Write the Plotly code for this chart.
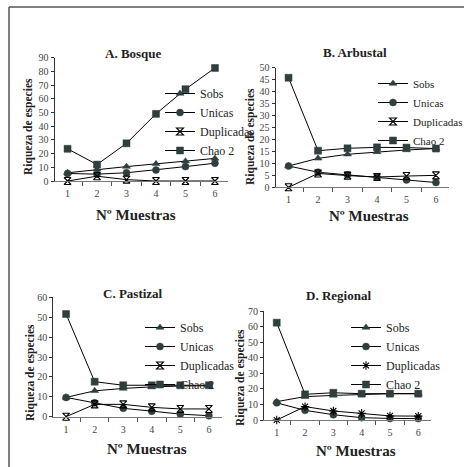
import plotly.graph_objects as go

W, H = 464, 467

samples = ["1", "2", "3", "4", "5", "6"]
series_names = ["Sobs", "Unicas", "Duplicadas", "Chao 2"]

# A. Bosque
sobs_A = [6, 8.5, 10.5, 12.5, 14.5, 16.5]
unicas_A = [5.5, 5, 6, 8, 10.5, 13]
dup_A = [0, 3.5, 1, 0, 0, 0]
chao_A = [23.5, 12, 27.5, 49, 67, 82.5]

# B. Arbustal
sobs_B = [8.9, 12.1, 13.8, 14.8, 15.6, 16.2]
unicas_B = [8.9, 6.3, 5.2, 4.2, 3.1, 2]
dup_B = [0, 5.8, 4.9, 4.3, 4.7, 5]
chao_B = [45.8, 15.3, 16.3, 16.7, 16.6, 16.2]

# C. Pastizal
sobs_C = [9.7, 13, 14.2, 15, 15.4, 15.6]
unicas_C = [9.7, 7, 4.2, 2.8, 1.3, 0.5]
dup_C = [0, 6.2, 6.2, 4.7, 3.9, 3.9]
chao_C = [51.6, 17.6, 15.8, 15.8, 15.8, 15.8]

# D. Regional
sobs_D = [11.8, 15, 15.8, 16.5, 16.9, 16.9]
unicas_D = [11, 6.2, 3.4, 1.5, 1, 0.9]
dup_D = [0, 8.6, 5.8, 4.3, 2.6, 2.5]
chao_D = [62.5, 16.5, 17.5, 16.9, 16.9, 16.9]

titles = ["A. Bosque", "B. Arbustal", "C. Pastizal", "D. Regional"]
y_max = [90, 50, 60, 70]
y_dtick = [10, 5, 10, 10]
x_title = "Nº Muestras"
y_title = "Riqueza de especies"

panels = [
    [sobs_A, unicas_A, dup_A, chao_A],
    [sobs_B, unicas_B, dup_B, chao_B],
    [sobs_C, unicas_C, dup_C, chao_C],
    [sobs_D, unicas_D, dup_D, chao_D],
]

# layout in pixels: plot-area left, right, bottom, top
areas = [
    (54.5, 228, 181, 57.7),
    (275.5, 449, 187.3, 67.7),
    (53.3, 221.7, 416.7, 297.3),
    (264, 431, 420, 311),
]
title_pos = [(133, 54), (355, 53), (133, 293), (338, 295)]
xt_pos = [(136, 215), (369, 216), (147, 449), (356, 451)]
yt_pos = [(28, 127), (250, 137), (30, 373), (240, 378)]
legend_pos = [(200, 88, 12), (413, 78, 11), (180, 322, 12), (386, 322, 12)]

MK = "#2f3e3e"
SERIF = "Liberation Serif"

def px(x):
    return x / W

def py(y):
    return 1 - y / H

fig = go.Figure()
layout = dict(
    width=W, height=H, margin=dict(l=0, r=0, t=0, b=0, autoexpand=False),
    paper_bgcolor="white", plot_bgcolor="white",
    font=dict(family=SERIF, color="#222"),
    showlegend=True,
)
annotations = []

def note(x, y, text, size, angle=0):
    return dict(x=px(x), y=py(y), xref="paper", yref="paper", text=text,
                showarrow=False, textangle=angle, xanchor="center", yanchor="middle",
                font=dict(family=SERIF, size=size, color="#222"))

for i, vals in enumerate(panels):
    n = "" if i == 0 else str(i + 1)
    xa, ya = "x" + n, "y" + n
    leg = "legend" if i == 0 else "legend" + str(i + 1)
    dup_symbol = "asterisk-open" if i == 3 else "hourglass-open"
    symbols = ["triangle-up", "circle", dup_symbol, "square"]
    for name, v, sym in zip(series_names, vals, symbols):
        if sym in ("hourglass-open", "asterisk-open"):
            marker = dict(symbol=sym, size=7, color="black", line=dict(color="black", width=1.1))
        else:
            marker = dict(symbol=sym, size=7, color=MK, line=dict(color=MK, width=0.5))
        fig.add_trace(go.Scatter(
            x=samples, y=v, name=name, mode="lines+markers",
            xaxis=xa, yaxis=ya, legend=leg, cliponaxis=False,
            line=dict(color="black", width=1), marker=marker,
        ))
    l, r, b, t = areas[i]
    layout["xaxis" + n] = dict(
        domain=[px(l), px(r)], anchor=ya, type="category",
        tickson="boundaries", ticks="outside", ticklen=4, tickcolor="#555",
        showline=True, linecolor="#777", linewidth=1.2, showgrid=False,
        zeroline=False, tickfont=dict(family=SERIF, size=10, color="#444"),
        ticklabelstandoff=3, fixedrange=True, automargin=False,
    )
    layout["yaxis" + n] = dict(
        domain=[py(b), py(t)], anchor=xa, range=[0, y_max[i]], dtick=y_dtick[i],
        ticks="outside", ticklen=3, tickcolor="#333",
        showline=True, linecolor="#333", linewidth=1, showgrid=False,
        zeroline=False, tickfont=dict(family=SERIF, size=10, color="#444"),
        fixedrange=True, automargin=False,
    )
    lx, ly, lsize = legend_pos[i]
    layout[leg] = dict(
        x=px(lx - 40), y=py(ly - 9), xanchor="left", yanchor="top",
        bgcolor="rgba(0,0,0,0)", borderwidth=0, itemwidth=30,
        font=dict(family=SERIF, size=lsize, color="#222"),
        tracegroupgap=0,
    )
    tx, ty = title_pos[i]
    annotations.append(note(tx, ty, "<b>" + titles[i] + "</b>", 13))
    ax_, ay_ = xt_pos[i]
    annotations.append(note(ax_, ay_, "<b>" + x_title + "</b>", 15))
    bx, by = yt_pos[i]
    annotations.append(note(bx, by, "<b>" + y_title + "</b>", 11.5, -90))

layout["annotations"] = annotations
layout["shapes"] = [
    dict(type="line", xref="paper", yref="paper", x0=px(9), x1=1, y0=py(7), y1=py(7),
         line=dict(color="#555", width=1.5)),
    dict(type="line", xref="paper", yref="paper", x0=px(9), x1=px(9), y0=py(7), y1=0,
         line=dict(color="#555", width=1.5)),
]
fig.update_layout(**layout)
fig.write_html(
    "out.html",
    config={"displayModeBar": False},
    post_script="document.body.style.margin='0';document.body.style.overflow='hidden';",
)
